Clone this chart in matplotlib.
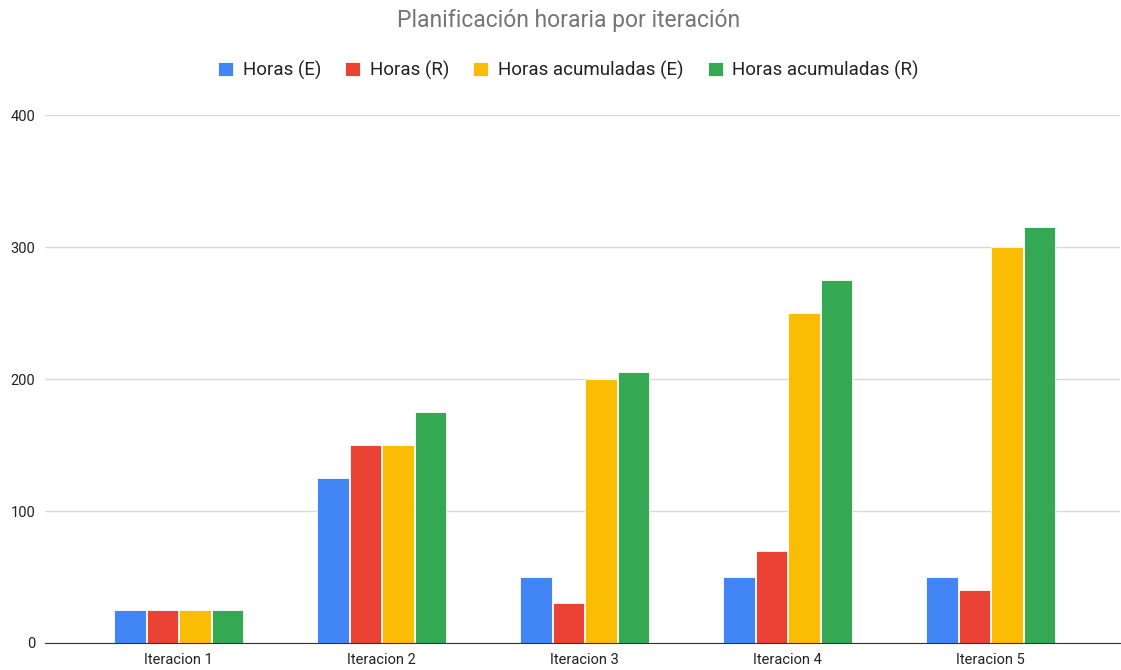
import matplotlib
matplotlib.use("Agg")
import matplotlib.pyplot as plt
import numpy as np

categories = ["Iteracion 1", "Iteracion 2", "Iteracion 3", "Iteracion 4", "Iteracion 5"]
series_names = ["Horas (E)", "Horas (R)", "Horas acumuladas (E)", "Horas acumuladas (R)"]
horas_e = [25, 125, 50, 50, 50]
horas_r = [25, 150, 30, 70, 40]
acum_e = [25, 150, 200, 250, 300]
acum_r = [25, 175, 205, 275, 315]
colors = ["#4285F4", "#EA4335", "#FBBC04", "#34A853"]
yticks = [0, 100, 200, 300, 400]

plt.rcParams["font.family"] = ["Roboto", "DejaVu Sans"]

fig = plt.figure(figsize=(11.21, 6.70), dpi=100, facecolor="white")
ax = fig.add_axes([0.040, 0.0403, 0.959, 0.788])

x = np.arange(len(categories))
width = 0.155
step = 0.16
for i, (vals, name, col) in enumerate(zip([horas_e, horas_r, acum_e, acum_r], series_names, colors)):
    ax.bar(x + (i - 1.5) * step, vals, width, color=col, label=name,
           edgecolor="white", linewidth=0.6, zorder=3)

ax.set_xlim(-0.66, 4.636)
ax.set_ylim(0, 400)
ax.set_yticks(yticks)
ax.set_xticks(x)
ax.set_xticklabels(categories)
ax.grid(axis="y", color="#D9D9D9", linewidth=1, zorder=0)
for s in ["top", "right", "left"]:
    ax.spines[s].set_visible(False)
ax.spines["bottom"].set_color("#333333")
ax.spines["bottom"].set_zorder(4)
ax.tick_params(axis="both", length=0, labelsize=10.5, colors="#222222")
ax.tick_params(axis="y", pad=7)
ax.tick_params(axis="x", pad=7)

fig.text(0.507, 0.970, "Planificación horaria por iteración", ha="center", va="center",
         fontsize=16.5, color="#757575")
fig.legend(loc="center", bbox_to_anchor=(0.507, 0.895), ncol=4, frameon=False,
           fontsize=13.5, handlelength=0.8, handleheight=0.8, handletextpad=0.5,
           columnspacing=1.3, labelcolor="#222222")

fig.savefig("out.png", dpi=100, facecolor="white")
